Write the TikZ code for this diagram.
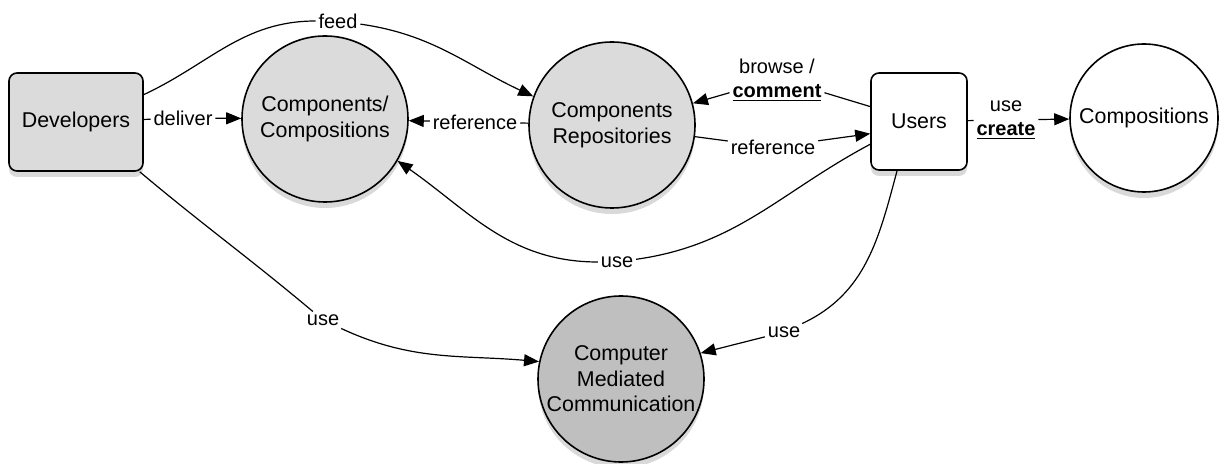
\documentclass[tikz,border=0pt]{standalone}
\usepackage{fontspec}
\setmainfont{Liberation Sans}
\usetikzlibrary{automata, arrows.meta, shadows}
\tikzset{
every state/.style={line width=0.8pt, inner sep=0pt, minimum size=83pt, align=center, font=\fontsize{10.7}{12.8}\selectfont, drop shadow={shadow xshift=0pt, shadow yshift=-3pt, opacity=0.3}}, % the circles
actor/.style={draw, line width=0.8pt, rounded corners=4pt, align=center, font=\fontsize{10.7}{12.8}\selectfont, drop shadow={shadow xshift=0pt, shadow yshift=-3pt, opacity=0.3}}, % the rounded boxes
lbl/.style={fill=white, inner sep=1.2pt, align=center, font=\fontsize{10}{12}\selectfont}, % texts on the connectors
}

\begin{document}
\begin{tikzpicture}[x=0.5pt, y=-0.5pt, line width=0.6pt, ->, >={Triangle[length=7.5pt, width=6pt]}]
\useasboundingbox (0,0) rectangle (1225,464);

\node[actor, fill=gray!28, minimum width=67pt, minimum height=49pt] (dev) at (76,122) {Developers};
\node[state, fill=gray!28] (cc) at (325,119) {Components/\\Compositions};
\node[state, fill=gray!28] (rep) at (612,125) {Components\\Repositories};
\node[actor, fill=white, minimum width=48pt, minimum height=48.5pt] (usr) at (919,121.5) {Users};
\node[state, fill=white, minimum size=74pt] (comp) at (1144,118) {Compositions};
\node[state, fill=gray!50] (cmc) at (621,379) {Computer\\Mediated\\Communication};

\node[lbl] (feedlbl) at (338,21) {feed};
\node[lbl] (dlv) at (183,118) {deliver};
\node[lbl] (ref1) at (475,122) {reference};
\node[lbl] (brw) at (777,80) {browse /\\\underline{\textbf{comment}}};
\node[lbl] (ref2) at (773,147) {reference};
\node[lbl] (usecr) at (1006,120) {use\\\underline{\textbf{create}}};
\node[lbl] (use1) at (617,262) {use};
\node[lbl] (use2) at (323,320) {use};
\node[lbl] (use3) at (784,332) {use};

\draw (dev.22) to[out=25, in=180] (feedlbl) to[out=-8, in=155] (rep.160);
\draw (dev) -- (dlv) -- (cc);
\draw (rep) -- (ref1) -- (cc);
\draw (usr.163) -- (brw.-15) (brw.195) -- (rep.15);
\draw (rep.-8) -- (ref2) -- (usr.-166);
\draw (usr) -- (usecr) -- (comp);
\draw (usr.-155) to[out=-152, in=8] (use1) to[out=180, in=-35] (cc.-30);
\draw (dev.-38) to[out=-40, in=140] (use2) to[out=-25, in=175] (cmc.168);
\draw (usr.-114) to[out=-105, in=25] (use3) -- (cmc.18);
\end{tikzpicture}
\end{document}
